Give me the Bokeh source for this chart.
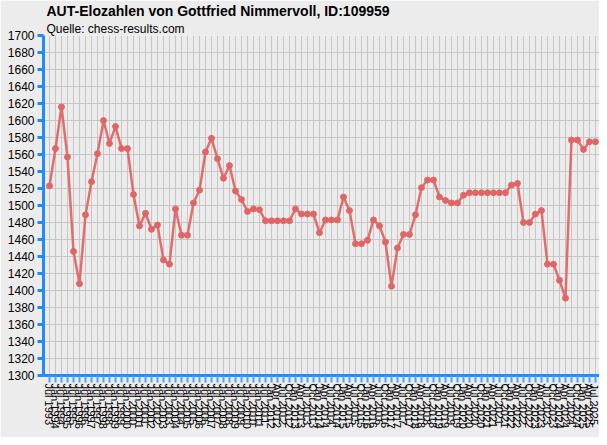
from bokeh.plotting import figure
from bokeh.models import Range1d, FixedTicker, Title, ColumnDataSource
from bokeh.embed import file_html
from bokeh.resources import INLINE

title_text = "AUT-Elozahlen von Gottfried Nimmervoll, ID:109959"
subtitle_text = "Quelle: chess-results.com"

# list dates (semiannual until 2011, quarterly afterwards)
dates = (["Jul 1993"]
         + [f"{m} {y}" for y in range(1994, 2012) for m in ("Jan", "Jul")]
         + [f"{m} {y}" for y in range(2012, 2025) for m in ("Jan", "Apr", "Jul", "Oct")]
         + ["Jan 2025", "Apr 2025", "Jul 2025"])

elo = [1523, 1567, 1616, 1557, 1446, 1408, 1489, 1528, 1561, 1600,
       1573, 1593, 1567, 1567, 1513, 1476, 1491, 1472, 1477, 1436,
       1431, 1496, 1465, 1465, 1503, 1518, 1563, 1579, 1555, 1532,
       1547, 1517, 1507, 1493, 1496, 1495, 1482, 1482, 1482, 1482,
       1482, 1496, 1490, 1490, 1490, 1468, 1483, 1483, 1483, 1510,
       1494, 1455, 1455, 1459, 1483, 1476, 1457, 1405, 1450, 1466,
       1466, 1489, 1521, 1530, 1530, 1510, 1506, 1503, 1503, 1512,
       1515, 1515, 1515, 1515, 1515, 1515, 1515, 1524, 1526, 1480,
       1480, 1490, 1494, 1431, 1431, 1412, 1391, 1577, 1577, 1566,
       1575, 1575]

y_ticks = list(range(1300, 1701, 20))

idx = list(range(len(elo)))
src = ColumnDataSource(dict(x=idx, y=elo))

BG = "#ececec"
BLUE = "#1e8cff"

p = figure(width=599, height=437, output_backend="svg", toolbar_location=None,
           x_range=Range1d(-1, len(elo) - 0.33), y_range=Range1d(1300, 1700),
           min_border_left=43, min_border_right=0, min_border_top=35, min_border_bottom=62)
p.background_fill_color = BG
p.border_fill_color = BG
p.outline_line_color = None

p.title.text = title_text
p.title.text_font = "Liberation Sans"
p.title.text_font_size = "14px"
p.title.text_font_style = "bold"
p.title.text_color = "black"
p.title.align = "left"
p.title.offset = 3
p.title.standoff = 1
p.add_layout(Title(text=subtitle_text, text_font="Liberation Sans", text_font_size="12px",
                   text_font_style="normal", text_color="black", align="left", offset=3,
                   standoff=0), "above")

p.line("x", "y", source=src, line_color="#e06666", line_width=2.5, line_alpha=0.95)
p.scatter("x", "y", source=src, size=6, fill_color="#e06666", line_color="#e06666", line_alpha=0.9)

# axes
p.xaxis.ticker = FixedTicker(ticks=idx)
p.xaxis.major_label_overrides = {i: d for i, d in enumerate(dates)}
p.xaxis.major_label_orientation = "vertical"
p.xaxis.major_label_text_font = "Liberation Sans"
p.xaxis.major_label_text_font_size = "11px"
p.xaxis.major_label_text_color = "black"
p.xaxis.major_label_standoff = 1
p.xaxis.axis_line_color = BLUE
p.xaxis.axis_line_width = 3
p.xaxis.major_tick_line_color = "#4aa3ff"
p.xaxis.major_tick_line_width = 2
p.xaxis.major_tick_out = 7
p.xaxis.major_tick_in = 0
p.xaxis.minor_tick_line_color = None

p.yaxis.ticker = FixedTicker(ticks=y_ticks)
p.yaxis.major_label_text_font = "Liberation Sans"
p.yaxis.major_label_text_font_size = "12px"
p.yaxis.major_label_text_color = "black"
p.yaxis.major_label_standoff = 3
p.yaxis.axis_line_color = BLUE
p.yaxis.axis_line_width = 3
p.yaxis.major_tick_line_color = BLUE
p.yaxis.major_tick_line_width = 3
p.yaxis.major_tick_out = 6
p.yaxis.major_tick_in = 0
p.yaxis.minor_tick_line_color = None

p.xgrid.ticker = FixedTicker(ticks=idx)
p.ygrid.ticker = FixedTicker(ticks=y_ticks)
p.grid.grid_line_color = "#c6c6c6"
p.grid.grid_line_width = 1

open("out.html", "w").write(file_html(p, INLINE))
